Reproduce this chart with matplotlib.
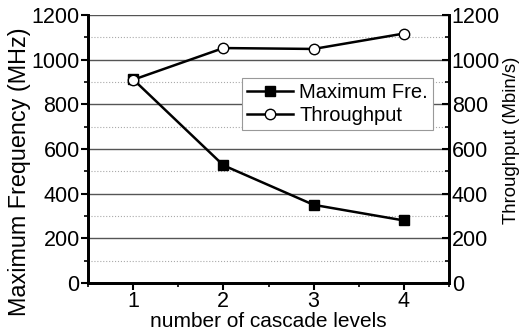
import matplotlib
matplotlib.use("Agg")
import matplotlib.pyplot as plt
from matplotlib.ticker import MultipleLocator

plt.rcParams['font.family'] = ['Liberation Sans', 'DejaVu Sans']

levels = [1, 2, 3, 4]
max_freq = [912, 527, 350, 280]
throughput = [910, 1052, 1048, 1117]
xtick_labels = ["1", "2", "3", "4"]

W, H = 519, 333
fig = plt.figure(figsize=(W/100, H/100), dpi=100)
ax = fig.add_axes([88/W, 1-283/H, (449-88)/W, (283-15)/H])
ax2 = ax.twinx()

ax.set_xlim(0.5, 4.5)
ax.set_ylim(0, 1200)
ax2.set_ylim(0, 1200)

ax.yaxis.set_major_locator(MultipleLocator(200))
ax.yaxis.set_minor_locator(MultipleLocator(100))
ax2.yaxis.set_major_locator(MultipleLocator(200))
ax2.yaxis.set_minor_locator(MultipleLocator(100))
ax.set_xticks(levels)
ax.set_xticklabels(xtick_labels)
ax.xaxis.set_minor_locator(MultipleLocator(0.5))

ax.grid(which='major', axis='y', color='#555555', linewidth=1.0)
ax.grid(which='minor', axis='y', color='#aaaaaa', linewidth=0.8, linestyle=':')
ax.set_axisbelow(True)

for a in (ax, ax2):
    a.spines['top'].set_visible(False)
    for s in ('left', 'right', 'bottom'):
        a.spines[s].set_linewidth(2)
    a.tick_params(which='major', length=5, width=1.5, labelsize=15.5, pad=1)
    a.tick_params(which='minor', length=3, width=1.2)
ax2.tick_params(axis='y', which='both', direction='in', pad=1)
ax2.tick_params(axis='y', which='major', pad=2)

l1, = ax.plot(levels, max_freq, color='black', linewidth=1.8, marker='s',
              markersize=7.2, markerfacecolor='black', zorder=3)
l2, = ax.plot(levels, throughput, color='black', linewidth=1.8, marker='o',
              markersize=7.5, markerfacecolor='white', zorder=4)

ax.set_xlabel("number of cascade levels", fontsize=15, labelpad=0)
fig.text(20/W, 1-172/H, "Maximum Frequency (MHz)", fontsize=16.8,
         rotation=90, ha='center', va='center')
fig.text(511/W, 1-140/H, "Throughput (Mbin/s)", fontsize=13.4,
         rotation=90, ha='center', va='center')

leg = ax.legend([l1, l2], ["Maximum Fre.", "Throughput"], loc='upper left',
                bbox_to_anchor=((242-88)/(449-88), (283-78)/(283-15)),
                fontsize=14.5, frameon=True, fancybox=False, edgecolor='#999999',
                framealpha=1, handlelength=2.3, borderpad=0.25, labelspacing=0.2,
                handletextpad=0.3, borderaxespad=0, markerscale=1.0)
leg.get_frame().set_linewidth(0.8)
leg.set_zorder(5)

fig.savefig("out.png", dpi=100)
